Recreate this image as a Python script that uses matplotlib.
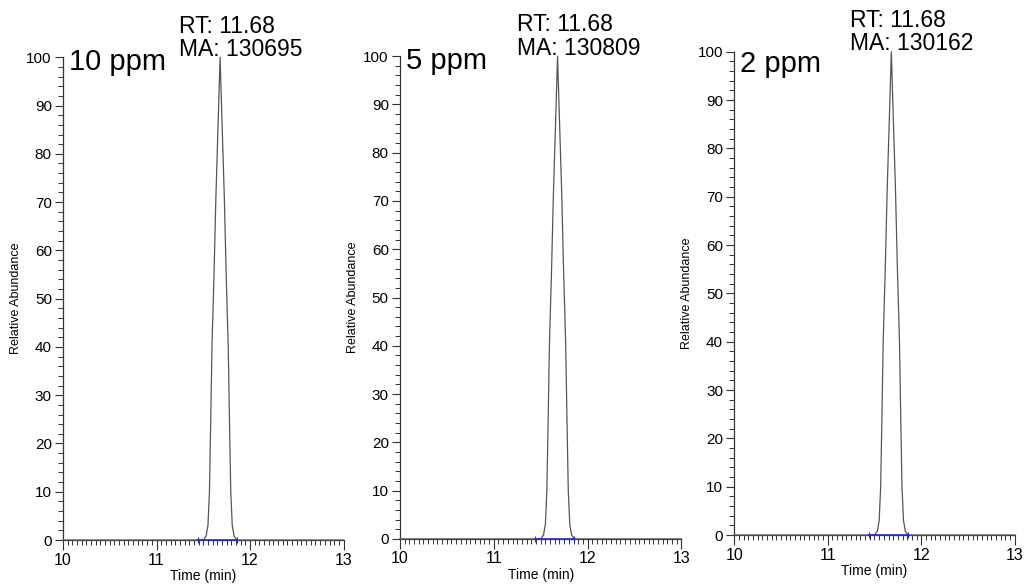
import matplotlib
matplotlib.use('Agg')
import matplotlib.pyplot as plt
from matplotlib.ticker import MultipleLocator

plt.rcParams['font.family'] = ['Liberation Sans', 'DejaVu Sans']

# ── 데이터 ──
conc_labels = ['10 ppm', '5 ppm', '2 ppm']
rt_values = [11.68, 11.68, 11.68]
ma_values = [130695, 130809, 130162]

peak_time = [10.0, 11.50, 11.53, 11.55, 11.566, 11.58, 11.593, 11.615, 11.635, 11.66, 11.68,
             11.70, 11.725, 11.745, 11.767, 11.78, 11.794, 11.81, 11.83, 11.86, 13.0]
peak_abund = [0, 0, 0.8, 3, 10, 25, 40, 55, 71, 87, 100,
              87, 71, 55, 40, 25, 10, 3, 0.8, 0, 0]
baseline_span = [11.44, 11.86]

# ── 축 위치 (figure fraction) ──
axes_rects = [
    [0.0615, 0.0816, 0.274, 0.821],
    [0.3905, 0.0835, 0.275, 0.821],
    [0.7170, 0.0901, 0.274, 0.822],
]
label_y = [97.3, 97.3, 95.9]

fig = plt.figure(figsize=(10.24, 5.88), dpi=100)

for i, rect in enumerate(axes_rects):
    ax = fig.add_axes(rect)
    ax.plot(peak_time, peak_abund, color='#555555', lw=0.9, clip_on=False, zorder=3)
    ax.plot(baseline_span, [0, 0], color='#2b2bd6', lw=1.2, zorder=4, clip_on=False,
            marker='|', markersize=5, markeredgewidth=0.8)

    ax.set_xlim(10, 13)
    ax.set_ylim(0, 100)
    ax.spines['top'].set_visible(False)
    ax.spines['right'].set_visible(False)
    for s in ['left', 'bottom']:
        ax.spines[s].set_color('#333333')
        ax.spines[s].set_linewidth(0.9)

    ax.xaxis.set_major_locator(MultipleLocator(1))
    ax.xaxis.set_minor_locator(MultipleLocator(0.05))
    ax.yaxis.set_major_locator(MultipleLocator(10))
    ax.yaxis.set_minor_locator(MultipleLocator(2))
    ax.tick_params(axis='x', which='major', direction='out', length=7, width=0.8,
                   labelsize=11.5, color='#333333', pad=2)
    ax.tick_params(axis='x', which='minor', direction='out', length=3.5, width=0.7, color='#333333')
    ax.tick_params(axis='y', which='major', direction='out', length=6, width=0.8,
                   labelsize=11, color='#333333', pad=2)
    ax.tick_params(axis='y', which='minor', direction='out', length=3.5, width=0.7, color='#333333')

    ax.set_xlabel('Time (min)', fontsize=10, labelpad=1)
    ax.set_ylabel('Relative Abundance', fontsize=9, labelpad=3)

    # 농도 라벨
    ax.text(10.06, label_y[i], conc_labels[i], fontsize=21, va='baseline', ha='left')
    # RT / MA 주석
    ax.annotate(f'RT: {rt_values[i]:.2f}\nMA: {ma_values[i]}', xy=(rt_values[i], 100),
                xytext=(-29.5, 1), textcoords='offset points', fontsize=16.5,
                ha='left', va='baseline', linespacing=1.02, annotation_clip=False)

fig.savefig('out.png', dpi=100)
